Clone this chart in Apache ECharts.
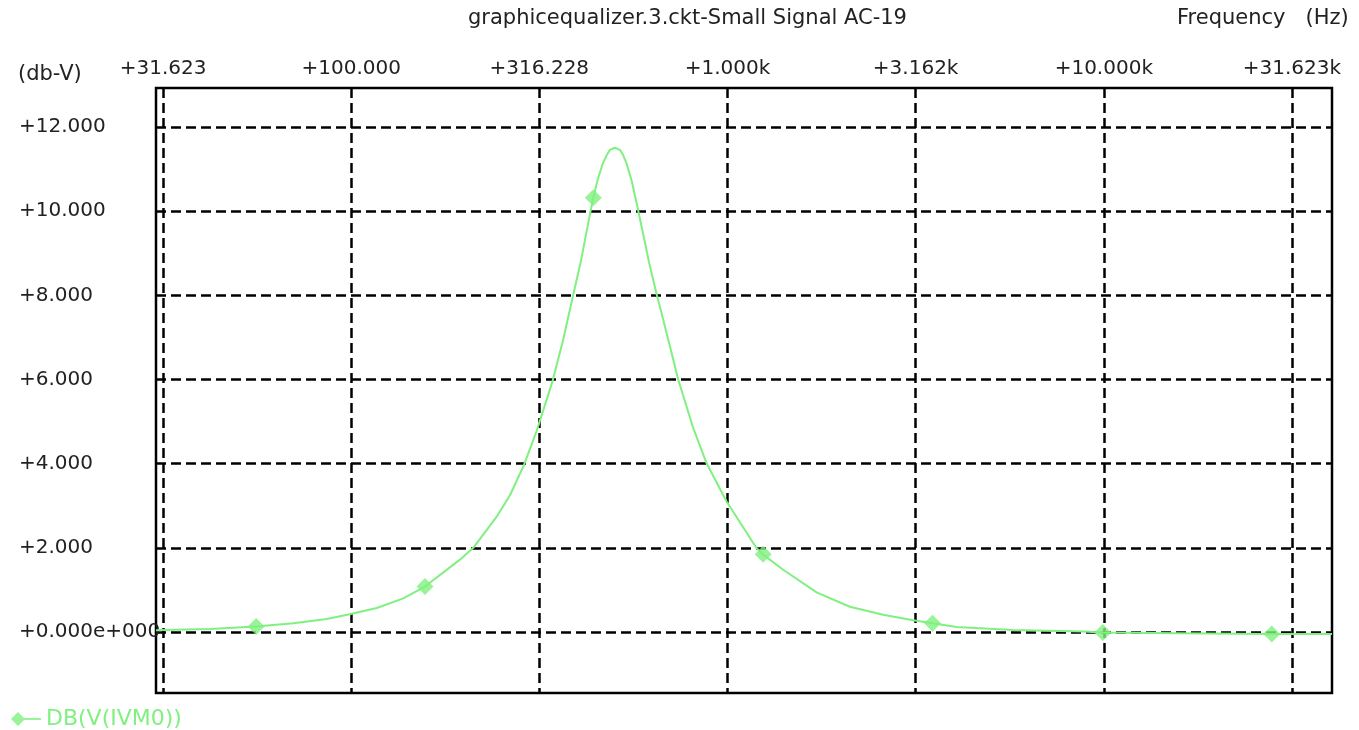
<!DOCTYPE html>
<html>
<head>
<meta charset="utf-8">
<script src="https://cdn.jsdelivr.net/npm/echarts@6/dist/echarts.min.js"></script>
<style>html,body{margin:0;padding:0;background:#fff;}#chart{width:1359px;height:730px;}</style>
</head>
<body>
<div id="chart"></div>
<script>
// ---- data ----
var freqs = [30.3, 31.6, 42.2, 55.9, 70.2, 86.1, 99.7, 116.9, 137.5, 157.1, 194.5, 211.1, 243.6, 264.2, 287.9, 311.1, 343.0, 366.0, 389.0, 407.9, 432.9, 440.0, 451.8, 465.9, 477.4, 487.1, 502.2, 517.8, 528.4, 539.4, 556.2, 579.0, 619.4, 648.1, 661.4, 702.8, 739.6, 810.6, 880.0, 994.5, 1195, 1244, 1406, 1725, 2114, 2592, 3114, 3506, 4061, 5731, 8795, 9938, 15850, 27940, 40400];
var dbValues = [0.04, 0.05, 0.07, 0.13, 0.21, 0.31, 0.43, 0.57, 0.80, 1.08, 1.72, 2.00, 2.74, 3.25, 3.97, 4.78, 5.97, 6.95, 8.01, 8.82, 10.02, 10.32, 10.75, 11.13, 11.33, 11.46, 11.51, 11.46, 11.33, 11.13, 10.73, 10.02, 8.77, 8.03, 7.73, 6.80, 6.00, 4.85, 4.01, 3.10, 1.99, 1.84, 1.48, 0.94, 0.60, 0.41, 0.28, 0.21, 0.12, 0.05, 0.01, -0.01, -0.03, -0.05, -0.05];
var markerFreqs = [55.9, 157.1, 440.0, 1244, 3506, 9938, 27940];
var markerDb = [0.13, 1.08, 10.32, 1.85, 0.21, -0.01, -0.05];
var xTickValues = [31.623, 100, 316.228, 1000, 3162.278, 10000, 31622.777];
var xTickLabels = ['+31.623', '+100.000', '+316.228', '+1.000k', '+3.162k', '+10.000k', '+31.623k'];
var yTickValues = [0, 2, 4, 6, 8, 10, 12];
var yTickLabels = ['+0.000e+000', '+2.000', '+4.000', '+6.000', '+8.000', '+10.000', '+12.000'];
var seriesName = 'DB(V(IVM0))';
var titleText = 'graphicequalizer.3.ckt-Small Signal AC-19';
var xUnitText = 'Frequency   (Hz)';
var yUnitText = '(db-V)';

// ---- build ----
var FONT = 'DejaVu Sans';
var GREEN = '#80f080';
var lineData = freqs.map(function (f, i) { return [f, dbValues[i]]; });
var markData = markerFreqs.map(function (f, i) { return [f, markerDb[i]]; });

function xLabel(v) {
  var best = 0, bd = Infinity;
  for (var i = 0; i < xTickValues.length; i++) {
    var d = Math.abs(Math.log10(v) - Math.log10(xTickValues[i]));
    if (d < bd) { bd = d; best = i; }
  }
  return xTickLabels[best];
}
function yLabel(v) {
  var i = yTickValues.indexOf(Math.round(v));
  return i >= 0 ? yTickLabels[i] : '';
}

var chart = echarts.init(document.getElementById('chart'), null, {renderer: 'canvas'});
function gridLine() { return {show: true, lineStyle: {color: '#000', width: 2.5, type: [10, 5]}}; }
chart.setOption({
  animation: false,
  backgroundColor: '#fff',
  graphic: [
    {type: 'text', left: 468, top: 8, style: {text: titleText, font: '21px "' + FONT + '"', fill: '#222'}},
    {type: 'text', left: 1177, top: 8, style: {text: xUnitText, font: '21px "' + FONT + '"', fill: '#222'}},
    {type: 'text', left: 18, top: 64, style: {text: yUnitText, font: '21px "' + FONT + '"', fill: '#222'}}
  ],
  legend: {
    data: [seriesName],
    left: 6, top: 703,
    itemWidth: 30, itemHeight: 14, itemGap: 10,
    icon: 'path://M0,7 L7,0 L14,7 L7,14 Z M7,6 L30,6 L30,8 L7,8 Z',
    textStyle: {color: GREEN, fontFamily: FONT, fontSize: 22},
    selectedMode: false
  },
  grid: {left: 156, right: 27, top: 88, bottom: 37, show: true, borderColor: '#000', borderWidth: 2.5, backgroundColor: 'transparent'},
  xAxis: {
    type: 'log', logBase: 10, position: 'top',
    min: 30.29, max: 40400,
    axisLine: {show: false},
    axisTick: {show: false, customValues: xTickValues},
    axisLabel: {customValues: xTickValues, formatter: xLabel, margin: 9, color: '#222', fontFamily: FONT, fontSize: 20},
    splitLine: gridLine()
  },
  yAxis: {
    type: 'value', min: -1.45, max: 12.93,
    axisLine: {show: false},
    axisTick: {show: false, customValues: yTickValues},
    axisLabel: {customValues: yTickValues, formatter: yLabel, align: 'left', margin: 137, color: '#222', fontFamily: FONT, fontSize: 20},
    splitLine: gridLine()
  },
  series: [
    {
      name: seriesName + ' trace', type: 'line', data: lineData, smooth: false,
      showSymbol: false, symbol: 'none',
      lineStyle: {color: GREEN, width: 2}, itemStyle: {color: GREEN},
      z: 3
    },
    {
      name: seriesName, type: 'scatter', data: markData,
      symbol: 'diamond', symbolSize: 17,
      itemStyle: {color: GREEN}, z: 4
    }
  ]
});
</script>
</body>
</html>
